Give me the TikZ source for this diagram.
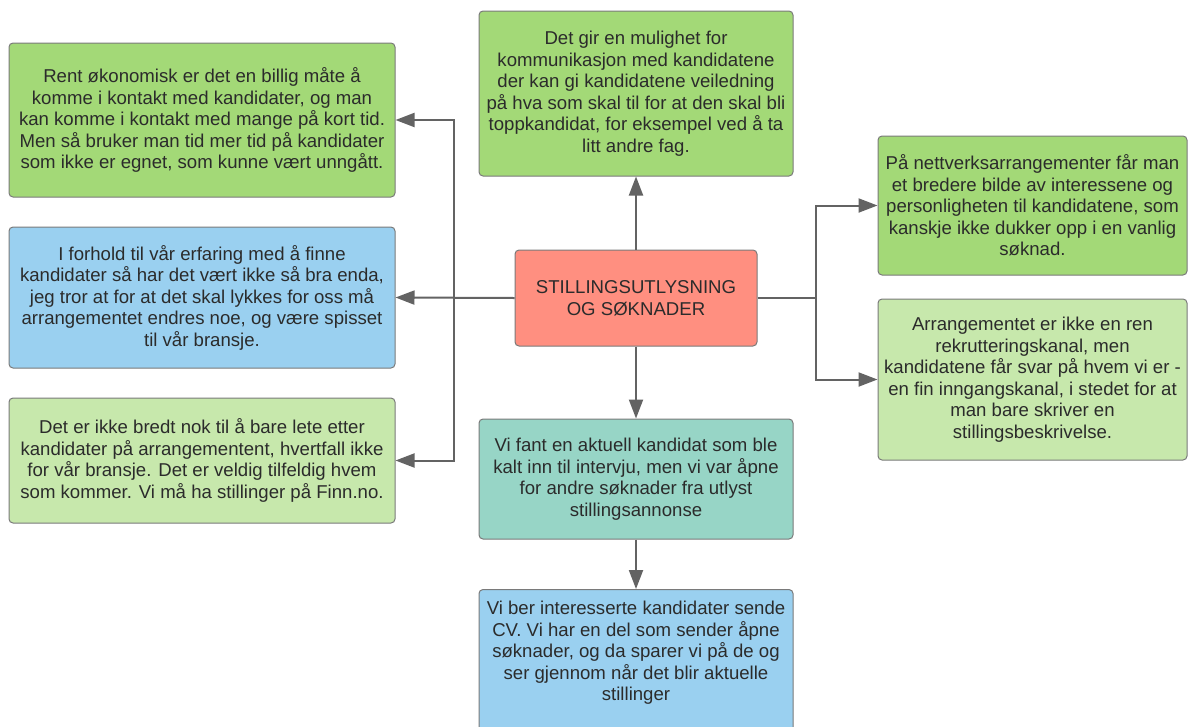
\documentclass[tikz,border=0pt]{standalone}
\usepackage{fontspec}
\setmainfont{Liberation Sans}
\usetikzlibrary{arrows.meta}
\definecolor{gdark}{HTML}{A3D977}
\definecolor{glight}{HTML}{C7E8AC}
\definecolor{bluebox}{HTML}{9AD0F0}
\definecolor{redbox}{HTML}{FF8F80}
\definecolor{tealbox}{HTML}{97D5C6}
\definecolor{edge}{HTML}{7A7A7A}
\definecolor{wire}{HTML}{636363}
\definecolor{ink}{HTML}{2B2B2B}
\begin{document}
\begin{tikzpicture}[x=1pt,y=-1pt,
  card/.style={draw=edge,line width=1pt,rounded corners=4pt,align=center,
    text=ink,inner sep=0pt,
    font=\fontsize{18.6}{21.5}\selectfont},
  conn/.style={draw=wire,line width=2pt,-{Triangle[length=19pt,width=14pt]}},
  wireline/.style={draw=wire,line width=2pt}]
\clip (0,0) rectangle (1190,726);
\fill[white] (0,0) rectangle (1190,726);

% left column
\node[card,fill=gdark,minimum width=386pt,minimum height=154pt] (n1) at (202,120)
  {Rent økonomisk er det en billig måte å\\komme i kontakt med kandidater, og man\\kan komme i kontakt med mange på kort tid.\\Men så bruker man tid mer tid på kandidater\\som ikke er egnet, som kunne vært unngått.};
\node[card,fill=bluebox,minimum width=386pt,minimum height=141pt] (n2) at (202,297.5)
  {I forhold til vår erfaring med å finne\\kandidater så har det vært ikke så bra enda,\\jeg tror at for at det skal lykkes for oss må\\arrangementet endres noe, og være spisset\\til vår bransje.};
\node[card,fill=glight,minimum width=386pt,minimum height=125pt] (n3) at (202,460.5)
  {Det er ikke bredt nok til å bare lete etter\\kandidater på arrangementent, hvertfall ikke\\for vår bransje. Det er veldig tilfeldig hvem\\som kommer. Vi må ha stillinger på Finn.no.};

% middle column
\node[card,fill=gdark,minimum width=314pt,minimum height=165pt] (n4) at (636,93.5)
  {Det gir en mulighet for\\kommunikasjon med kandidatene\\der kan gi kandidatene veiledning\\på hva som skal til for at den skal bli\\toppkandidat, for eksempel ved å ta\\litt andre fag.};
\node[card,fill=redbox,minimum width=242pt,minimum height=96pt] (c) at (636,298)
  {STILLINGSUTLYSNING\\OG SØKNADER};
\node[card,fill=tealbox,minimum width=314pt,minimum height=120pt] (n8) at (636,479)
  {Vi fant en aktuell kandidat som ble\\kalt inn til intervju, men vi var åpne\\for andre søknader fra utlyst\\stillingsannonse};
\node[card,fill=bluebox,minimum width=314pt,minimum height=180pt,anchor=north] (n9) at (636,589) {};
\node[card,draw=none,anchor=north] (t9) at (636,601)
  {Vi ber interesserte kandidater sende\\CV. Vi har en del som sender åpne\\søknader, og da sparer vi på de og\\ser gjennom når det blir aktuelle\\stillinger};

% right column
\node[card,fill=gdark,minimum width=309pt,minimum height=139pt] (n6) at (1032.5,205.5)
  {På nettverksarrangementer får man\\et bredere bilde av interessene og\\personligheten til kandidatene, som\\kanskje ikke dukker opp i en vanlig\\søknad.};
\node[card,fill=glight,minimum width=309pt,minimum height=161pt] (n7) at (1032.5,379.5)
  {Arrangementet er ikke en ren\\rekrutteringskanal, men\\kandidatene får svar på hvem vi er -\\en fin inngangskanal, i stedet for at\\man bare skriver en\\stillingsbeskrivelse.};

% branch points
\coordinate (jl) at (454,298);
\coordinate (jr) at (816,298);

% connectors
\draw[conn] (c.north) -- (n4.south);
\draw[conn] (c.west) -- (n2.east);
\draw[conn] (jl) |- (n1.east);
\draw[conn] (jl) |- (n3.east);
\draw[wireline] (c.east) -- (jr);
\draw[conn] (jr) |- (n6.west);
\draw[conn] (jr) |- (n7.west);
\draw[conn] (c.south) -- (n8.north);
\draw[conn] (n8.south) -- (n9.north);
\end{tikzpicture}
\end{document}
